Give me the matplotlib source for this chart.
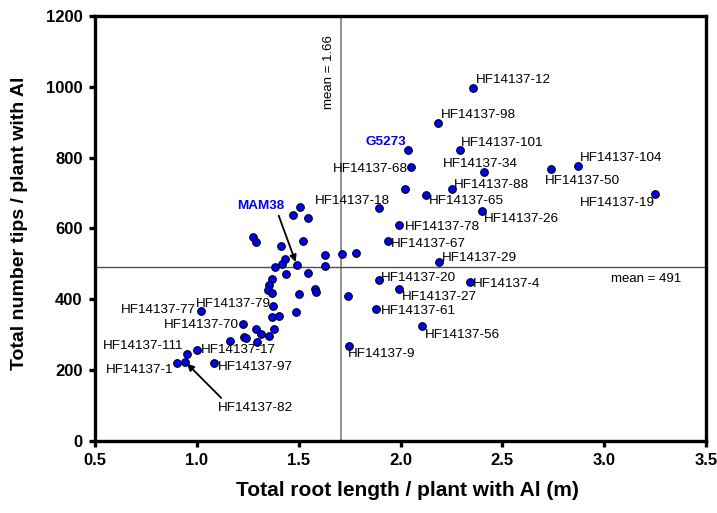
import matplotlib
matplotlib.use('Agg')
import matplotlib.pyplot as plt

plt.rcParams['font.family'] = ['Liberation Sans', 'DejaVu Sans']

# labelled lines (root length in m, number of tips)
names = ['HF14137-12', 'HF14137-98', 'G5273', 'HF14137-101', 'HF14137-68',
         'HF14137-34', 'HF14137-104', 'HF14137-50', 'HF14137-88', 'HF14137-65',
         'HF14137-19', 'HF14137-26', 'HF14137-18', 'HF14137-78', 'HF14137-67',
         'HF14137-29', 'HF14137-20', 'HF14137-4', 'HF14137-27', 'HF14137-61',
         'HF14137-56', 'HF14137-9', 'MAM38', 'HF14137-79', 'HF14137-77',
         'HF14137-70', 'HF14137-17', 'HF14137-111', 'HF14137-82', 'HF14137-1',
         'HF14137-97']
root_len = [2.357, 2.185, 2.038, 2.293, 2.053,
            2.410, 2.871, 2.738, 2.254, 2.123,
            3.251, 2.398, 1.896, 1.995, 1.940,
            2.190, 1.896, 2.341, 1.995, 1.881,
            2.106, 1.748, 1.490, 1.375, 1.022,
            1.228, 1.002, 0.950, 0.942, 0.901,
            1.082]
tips = [996, 897, 822, 822, 775,
        759, 777, 768, 711, 695,
        697, 649, 659, 610, 566,
        505, 455, 449, 428, 373,
        326, 267, 498, 381, 366,
        330, 257, 246, 224, 219,
        221]

# unlabelled lines
other_len = [2.022, 1.505, 1.474, 1.544, 1.277, 1.290, 1.411, 1.521, 1.631,
             1.711, 1.783, 1.434, 1.418, 1.384, 1.631, 1.439, 1.544, 1.370,
             1.354, 1.351, 1.369, 1.580, 1.586, 1.504, 1.743, 1.367, 1.405,
             1.488, 1.380, 1.292, 1.313, 1.356, 1.233, 1.241, 1.164, 1.297]
other_tips = [711, 660, 637, 629, 577, 563, 551, 566, 525,
              528, 532, 513, 500, 490, 495, 472, 475, 457,
              440, 426, 417, 429, 421, 414, 410, 349, 354,
              365, 316, 315, 303, 297, 295, 292, 283, 280]

mean_len = 1.71
mean_tips = 491
mean_len_label = 'mean = 1.66'
mean_tips_label = 'mean = 491'

parents = ['G5273', 'MAM38']

# label placement: (dx, dy) in pixels from the point, horizontal alignment
label_pos = {
    'HF14137-12': (3, 8, 'left'), 'HF14137-98': (3, 8, 'left'),
    'G5273': (-2, 8, 'right'), 'HF14137-101': (1, 7, 'left'),
    'HF14137-68': (-3, -2, 'right'), 'HF14137-34': (-4, 8, 'center'),
    'HF14137-104': (2, 8, 'left'), 'HF14137-50': (-6, -12, 'left'),
    'HF14137-88': (2, 4, 'left'), 'HF14137-65': (3, -6, 'left'),
    'HF14137-19': (0, -9, 'right'), 'HF14137-26': (2, -8, 'left'),
    'HF14137-18': (-27, 7, 'center'), 'HF14137-78': (5, -2, 'left'),
    'HF14137-67': (3, -3, 'left'), 'HF14137-29': (3, 4, 'left'),
    'HF14137-20': (2, 2, 'left'), 'HF14137-4': (3, -2, 'left'),
    'HF14137-27': (2, -8, 'left'), 'HF14137-61': (5, -2, 'left'),
    'HF14137-56': (3, -9, 'left'), 'HF14137-9': (-1, -8, 'left'),
    'HF14137-79': (-2, 2, 'right'), 'HF14137-77': (-5, 1, 'right'),
    'HF14137-70': (-4, -1, 'right'), 'HF14137-17': (4, 0, 'left'),
    'HF14137-111': (-3, 8, 'right'), 'HF14137-1': (-3, -7, 'right'),
    'HF14137-97': (4, -4, 'left'),
}
# labels attached with an arrow: (dx, dy, relpos of arrow start)
arrow_pos = {
    'MAM38': (-36, 59, (0.85, 0.0)),
    'HF14137-82': (70, -46, (0.1, 1.0)),
}

fig = plt.figure(figsize=(7.17, 5.13), dpi=100)
ax = fig.add_axes([0.1325, 0.1404, 0.8522, 0.8284])

ax.axvline(mean_len, color='#808080', lw=1.2, zorder=1)
ax.axhline(mean_tips, color='#505050', lw=1.0, zorder=1)

ax.scatter(root_len + other_len, tips + other_tips, s=30, c='#0000FF',
           edgecolors='black', linewidths=0.8, zorder=3)

for name, x, y in zip(names, root_len, tips):
    color = '#0000FF' if name in parents else 'black'
    weight = 'bold' if name in parents else 'normal'
    if name in arrow_pos:
        dx, dy, rel = arrow_pos[name]
        ax.annotate(name, (x, y), xytext=(dx, dy), textcoords='offset pixels',
                    ha='center', va='center', fontsize=9.7, color=color,
                    fontweight=weight, zorder=4,
                    arrowprops=dict(arrowstyle='-|>', color='black', lw=1.3,
                                    mutation_scale=10, shrinkA=1, shrinkB=2,
                                    relpos=rel))
    else:
        dx, dy, ha = label_pos[name]
        ax.annotate(name, (x, y), xytext=(dx, dy), textcoords='offset pixels',
                    ha=ha, va='center', fontsize=9.7, color=color,
                    fontweight=weight, zorder=4)

ax.annotate(mean_len_label, (mean_len, 1042), xytext=(-12, 0),
            textcoords='offset pixels', rotation=90, ha='center', va='center',
            fontsize=9.5)
ax.annotate(mean_tips_label, (3.205, mean_tips), xytext=(0, -12),
            textcoords='offset pixels', ha='center', va='center', fontsize=9.5)

ax.set_xlim(0.5, 3.5)
ax.set_ylim(0, 1200)
ax.set_xticks([0.5, 1.0, 1.5, 2.0, 2.5, 3.0, 3.5])
ax.set_xticklabels(['0.5', '1.0', '1.5', '2.0', '2.5', '3.0', '3.5'])
ax.set_yticks(range(0, 1201, 200))
for s in ax.spines.values():
    s.set_linewidth(2.4)
ax.tick_params(direction='out', length=4, width=2.4, labelsize=12, pad=5)
for lab in ax.get_xticklabels() + ax.get_yticklabels():
    lab.set_fontweight('bold')

ax.set_xlabel('Total root length / plant with Al (m)', fontsize=15,
              fontweight='bold')
ax.set_ylabel('Total number tips / plant with Al', fontsize=14,
              fontweight='bold')
ax.xaxis.set_label_coords(0.512, -0.094)
ax.yaxis.set_label_coords(-0.110, 0.513)

fig.savefig('out.png', dpi=100)
